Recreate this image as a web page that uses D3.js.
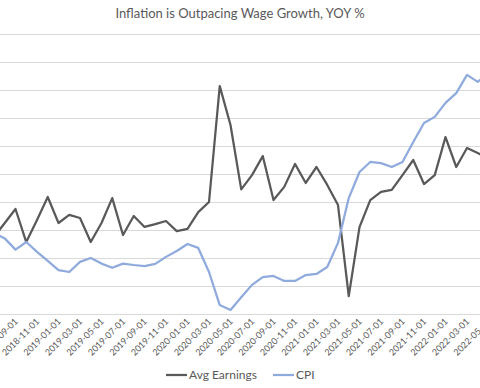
<!DOCTYPE html>
<html>
<head>
<meta charset="utf-8">
<script src="https://cdn.jsdelivr.net/npm/d3@7"></script>
<style>
  body { margin: 0; background: #fff; }
  text { font-family: Lato, "Open Sans", sans-serif; fill: #595959; }
</style>
</head>
<body>
<div id="chart"></div>
<script>
// months shown (the chart is cropped on both sides)
var months = ["2018-07-01", "2018-08-01", "2018-09-01", "2018-10-01", "2018-11-01", "2018-12-01",
  "2019-01-01", "2019-02-01", "2019-03-01", "2019-04-01", "2019-05-01", "2019-06-01",
  "2019-07-01", "2019-08-01", "2019-09-01", "2019-10-01", "2019-11-01", "2019-12-01",
  "2020-01-01", "2020-02-01", "2020-03-01", "2020-04-01", "2020-05-01", "2020-06-01",
  "2020-07-01", "2020-08-01", "2020-09-01", "2020-10-01", "2020-11-01", "2020-12-01",
  "2021-01-01", "2021-02-01", "2021-03-01", "2021-04-01", "2021-05-01", "2021-06-01",
  "2021-07-01", "2021-08-01", "2021-09-01", "2021-10-01", "2021-11-01", "2021-12-01",
  "2022-01-01", "2022-02-01", "2022-03-01", "2022-04-01", "2022-05-01"];

var avgEarnings = [2.75, 3.25, 3.75, 2.57, 3.36, 4.18,
  3.25, 3.54, 3.43, 2.57, 3.25, 4.14,
  2.82, 3.5, 3.11, 3.21, 3.32, 2.96,
  3.04, 3.64, 4.0, 8.14, 6.75, 4.45,
  4.96, 5.64, 4.07, 4.54, 5.36, 4.68,
  5.25, 4.61, 3.89, 0.64, 3.1, 4.07,
  4.36, 4.43, 4.96, 5.5, 4.64, 4.96,
  6.32, 5.25, 5.93, 5.75, 5.55];

var cpi = [2.9, 2.7, 2.3, 2.57, 2.22, 1.9,
  1.57, 1.5, 1.86, 2.0, 1.8, 1.65,
  1.8, 1.75, 1.71, 1.79, 2.04, 2.25,
  2.5, 2.36, 1.5, 0.32, 0.14, 0.6,
  1.04, 1.32, 1.36, 1.18, 1.18, 1.39,
  1.43, 1.68, 2.54, 4.14, 5.07, 5.43,
  5.39, 5.25, 5.43, 6.14, 6.82, 7.04,
  7.54, 7.89, 8.54, 8.29, 8.6];

var yTicks = [0, 1, 2, 3, 4, 5, 6, 7, 8, 9, 10];

var width = 480, height = 388;

var svg = d3.select("#chart").append("svg")
    .attr("width", width)
    .attr("height", height);

// plot area runs past the picture on both sides
var x = d3.scalePoint()
    .domain(months)
    .range([-6, -6 + 10.75 * (months.length - 1)]);

var y = d3.scaleLinear()
    .domain([0, 10])
    .range([314, 34]);

svg.append("text")
    .attr("x", 240)
    .attr("y", 18)
    .attr("text-anchor", "middle")
    .style("font-size", "13px")
    .text("Inflation is Outpacing Wage Growth, YOY %");

svg.append("g")
    .selectAll("line")
    .data(yTicks)
    .enter()
    .append("line")
    .attr("x1", 0)
    .attr("x2", width)
    .attr("y1", function (d) { return y(d) + 0.5; })
    .attr("y2", function (d) { return y(d) + 0.5; })
    .attr("stroke", "#d9d9d9")
    .attr("stroke-width", 1);

// date labels every other month
var labelMonths = months.filter(function (d) { return +d.slice(5, 7) % 2 == 1; });

svg.append("g")
    .selectAll("text")
    .data(labelMonths)
    .enter()
    .append("text")
    .attr("transform", function (d) { return "translate(" + (x(d) + 3) + ",322) rotate(-45)"; })
    .attr("text-anchor", "end")
    .style("font-size", "9px")
    .text(function (d) { return d; });

var line = d3.line()
    .x(function (d, i) { return x(months[i]); })
    .y(function (d) { return y(d); });

svg.append("path")
    .datum(avgEarnings)
    .attr("fill", "none")
    .attr("stroke", "#595959")
    .attr("stroke-width", 2.25)
    .attr("stroke-linejoin", "round")
    .attr("d", line);

svg.append("path")
    .datum(cpi)
    .attr("fill", "none")
    .attr("stroke", "#8faadc")
    .attr("stroke-width", 2.25)
    .attr("stroke-linejoin", "round")
    .attr("d", line);

// legend
var legend = [
  { name: "Avg Earnings", color: "#595959", x: 166 },
  { name: "CPI", color: "#8faadc", x: 273 }
];

var lg = svg.append("g").selectAll("g")
    .data(legend)
    .enter()
    .append("g")
    .attr("transform", function (d) { return "translate(" + d.x + ",375)"; });

lg.append("line")
    .attr("x1", 0)
    .attr("x2", 21)
    .attr("stroke", function (d) { return d.color; })
    .attr("stroke-width", 2.25);

lg.append("text")
    .attr("x", 23)
    .attr("dy", "0.35em")
    .style("font-size", "12px")
    .text(function (d) { return d.name; });
</script>
</body>
</html>
